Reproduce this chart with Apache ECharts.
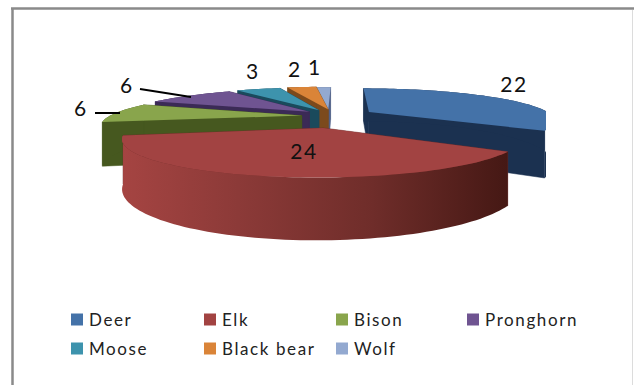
<!DOCTYPE html>
<html>
<head>
<meta charset="utf-8">
<style>
html, body { margin: 0; padding: 0; background: #fff; }
#chart { width: 634px; height: 385px; }
text { letter-spacing: 1.6px; }
</style>
<script src="https://cdn.jsdelivr.net/npm/echarts@6/dist/echarts.min.js"></script>
</head>
<body>
<div id="chart"></div>
<script>
// Harvest counts by species, drawn as an exploded pie in perspective.
const categories = ['Deer', 'Elk', 'Bison', 'Pronghorn', 'Moose', 'Black bear', 'Wolf'];
const values = [22, 24, 6, 6, 3, 2, 1];
const topColors = ['#4472a8', '#a24342', '#89a54c', '#6f5491', '#3d93ad', '#da8438', '#93a9d0'];
const sideColors = ['#1b3150', '#6f2d2a', '#46581f', '#3b2a56', '#1a4a5c', '#7c4a1c', '#4f6088'];
const legendColumns = [['Deer', 'Moose'], ['Elk', 'Black bear'], ['Bison', 'Wolf'], ['Pronghorn']];
const legendLeft = [71, 204, 336, 467];

// How far each slice is pulled out of the pie, and its radius across and along the view.
const pullX = [0.15, -0.085, -0.205, -0.17, -0.12, -0.07, -0.07];
const pullZ = [-0.14, 0.34, -0.02, -0.15, -0.2, -0.23, -0.2];
const radiusX = [0.96, 0.915, 1, 1, 1, 1, 1];
const radiusZ = [1, 0.97, 1, 1, 1, 1, 1];
// Right-hand limit of the pulled-out Deer slice, which keeps its outer edge flat.
const RIGHT_LIMIT = 546;
// Stacking rank of the slices: far ones are painted first.
const depthRank = [5, 6, 4, 3, 2, 1, 0];
// Where each value label sits, and the leader line it may carry.
const labelAt = [[514, 83], [304, 150], [81, 107], [127, 84], [253, 70], [295, 68], [315, 66]];
const leaders = [null, null, [[95, 113], [120, 113]], [[140, 89], [191, 97]], null, null, null];

// Perspective camera.
const CX = 341, FOCAL_X = 770, HORIZON = -9.5, GROUND = 503, CAM = 4, THICK = 169;

function project(x, z, lifted) {
  const d = CAM - z;
  return [Math.min(CX + FOCAL_X * x / d, RIGHT_LIMIT), HORIZON + GROUND / d + (lifted ? 0 : THICK / d)];
}

const total = values.reduce(function (a, b) { return a + b; }, 0);
const sliceStart = [];
values.reduce(function (sum, v, i) { sliceStart[i] = sum; return sum + v; }, 0);

function sliceShapes(i, api) {
  const a0 = sliceStart[i] / total * Math.PI * 2;
  const a1 = (sliceStart[i] + values[i]) / total * Math.PI * 2;
  const steps = Math.max(4, Math.ceil((a1 - a0) / 0.03));
  const rim = [];
  for (let s = 0; s <= steps; s++) {
    const a = a0 + (a1 - a0) * s / steps;
    rim.push([pullX[i] + radiusX[i] * Math.sin(a), pullZ[i] - radiusZ[i] * Math.cos(a)]);
  }
  const apex = [pullX[i], pullZ[i]];
  const outerFill = i === 1
    ? new echarts.graphic.LinearGradient(0, 0, 1, 0, [
        { offset: 0, color: '#a54442' },
        { offset: 0.3, color: '#8c3a38' },
        { offset: 0.65, color: '#6f2d2a' },
        { offset: 1, color: '#451814' }
      ], false)
    : sideColors[i];
  const children = [];
  const wall = function (p, q) {
    children.push({
      type: 'polygon',
      shape: { points: [project(p[0], p[1], true), project(q[0], q[1], true), project(q[0], q[1], false), project(p[0], p[1], false)] },
      style: { fill: sideColors[i], stroke: sideColors[i], lineWidth: 0.5 }
    });
  };
  wall(apex, rim[0]);
  wall(rim[rim.length - 1], apex);
  // The curved outer wall is one polygon so a gradient can run across it.
  const outerTop = rim.map(function (p) { return project(p[0], p[1], true); });
  const outerBottom = rim.map(function (p) { return project(p[0], p[1], false); }).reverse();
  children.push({
    type: 'polygon',
    shape: { points: outerTop.concat(outerBottom) },
    style: { fill: outerFill }
  });
  children.push({
    type: 'polygon',
    shape: { points: [apex].concat(rim).map(function (p) { return project(p[0], p[1], true); }) },
    style: { fill: topColors[i] }
  });
  if (leaders[i]) {
    children.push({
      type: 'line',
      shape: { x1: leaders[i][0][0], y1: leaders[i][0][1], x2: leaders[i][1][0], y2: leaders[i][1][1] },
      style: { stroke: '#000', lineWidth: 2 }
    });
  }
  children.push({
    type: 'text',
    style: {
      x: labelAt[i][0], y: labelAt[i][1], text: String(api.value(0)),
      fill: '#111', font: '21px Lato', textAlign: 'center', textVerticalAlign: 'middle'
    }
  });
  return { type: 'group', children: children };
}

const chart = echarts.init(document.getElementById('chart'), null, { renderer: 'svg' });
chart.setOption({
  animation: false,
  backgroundColor: '#fff',
  graphic: [
    { type: 'line', silent: true, shape: { x1: 11, y1: 8.5, x2: 634, y2: 8.5 }, style: { stroke: '#8a8a8a', lineWidth: 2.5 } },
    { type: 'line', silent: true, shape: { x1: 12.5, y1: 8, x2: 12.5, y2: 385 }, style: { stroke: '#8a8a8a', lineWidth: 2.5 } },
    { type: 'line', silent: true, shape: { x1: 632.5, y1: 10, x2: 632.5, y2: 385 }, style: { stroke: '#dcdcdc', lineWidth: 1 } }
  ],
  legend: legendColumns.map(function (names, c) {
    return {
      data: names,
      orient: 'vertical',
      left: legendLeft[c],
      top: 311,
      itemWidth: 12,
      itemHeight: 12,
      itemGap: 12,
      icon: 'rect',
      selectedMode: false,
      padding: 0,
      textStyle: { fontFamily: 'Lato', fontSize: 17, color: '#222', padding: [0, 0, 0, 1] }
    };
  }),
  series: categories.map(function (name, i) {
    return {
      type: 'custom',
      name: name,
      coordinateSystem: 'none',
      z: 2 + depthRank[i],
      itemStyle: { color: topColors[i] },
      data: [[values[i]]],
      renderItem: function (params, api) { return sliceShapes(i, api); }
    };
  })
});
</script>
</body>
</html>
